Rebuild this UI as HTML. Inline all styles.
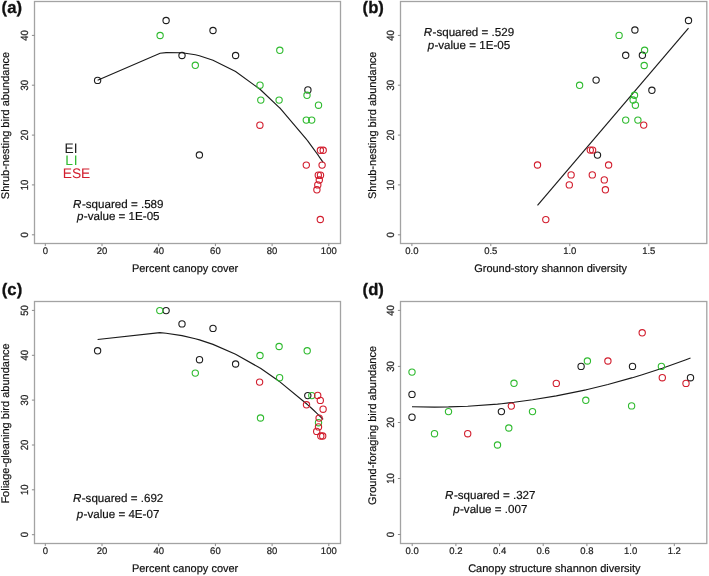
<!DOCTYPE html>
<html><head><meta charset="utf-8"><style>
html,body{margin:0;padding:0;background:#fff;}
svg{display:block;will-change:transform;}
text{font-family:"Liberation Sans",sans-serif;text-rendering:geometricPrecision;}
.tl{font-size:9.5px;fill:#222;stroke:#222;stroke-width:0.2px;}
.ax{font-size:11px;fill:#111;stroke:#111;stroke-width:0.2px;}
.an{font-size:11.6px;fill:#111;stroke:#111;stroke-width:0.2px;}
.lg{font-size:13.8px;}
.pl{font-size:16.7px;font-weight:bold;fill:#111;stroke:#111;stroke-width:0.3px;}
.tk{stroke:#8a8a8a;stroke-width:1;}
</style></head><body>
<svg width="709" height="576" viewBox="0 0 709 576">
<rect width="709" height="576" fill="#fff"/>
<rect x="34.5" y="1.5" width="306.0" height="242.0" fill="none" stroke="#a3a3a3" stroke-width="1.3"/>
<line x1="45.3" y1="243.5" x2="45.3" y2="246.1" class="tk"/>
<text x="45.3" y="253.5" class="tl" text-anchor="middle">0</text>
<line x1="102.0" y1="243.5" x2="102.0" y2="246.1" class="tk"/>
<text x="102.0" y="253.5" class="tl" text-anchor="middle">20</text>
<line x1="158.7" y1="243.5" x2="158.7" y2="246.1" class="tk"/>
<text x="158.7" y="253.5" class="tl" text-anchor="middle">40</text>
<line x1="215.4" y1="243.5" x2="215.4" y2="246.1" class="tk"/>
<text x="215.4" y="253.5" class="tl" text-anchor="middle">60</text>
<line x1="272.1" y1="243.5" x2="272.1" y2="246.1" class="tk"/>
<text x="272.1" y="253.5" class="tl" text-anchor="middle">80</text>
<line x1="328.8" y1="243.5" x2="328.8" y2="246.1" class="tk"/>
<text x="328.8" y="253.5" class="tl" text-anchor="middle">100</text>
<line x1="31.9" y1="234.8" x2="34.5" y2="234.8" class="tk"/>
<text transform="translate(27.6,234.8) rotate(-90) scale(1,1.1)" class="tl" text-anchor="middle">0</text>
<line x1="31.9" y1="184.9" x2="34.5" y2="184.9" class="tk"/>
<text transform="translate(27.6,184.9) rotate(-90) scale(1,1.1)" class="tl" text-anchor="middle">10</text>
<line x1="31.9" y1="135.1" x2="34.5" y2="135.1" class="tk"/>
<text transform="translate(27.6,135.1) rotate(-90) scale(1,1.1)" class="tl" text-anchor="middle">20</text>
<line x1="31.9" y1="85.2" x2="34.5" y2="85.2" class="tk"/>
<text transform="translate(27.6,85.2) rotate(-90) scale(1,1.1)" class="tl" text-anchor="middle">30</text>
<line x1="31.9" y1="35.4" x2="34.5" y2="35.4" class="tk"/>
<text transform="translate(27.6,35.4) rotate(-90) scale(1,1.1)" class="tl" text-anchor="middle">40</text>
<text x="185.1" y="271.5" class="ax" text-anchor="middle">Percent canopy cover</text>
<text transform="translate(9.3,125.5) rotate(-90)" class="ax" text-anchor="middle">Shrub-nesting bird abundance</text>
<polyline points="97.6,80.3 160.1,53.2 166.1,52.6 182.0,52.8 195.3,54.8 199.4,55.8 213.0,60.2 235.6,71.5 259.9,89.2 260.0,89.3 260.8,90.0 279.1,107.3 279.8,108.0 306.3,139.1 307.0,140.0 307.9,141.2 311.7,146.3 316.9,153.5 317.8,154.7 318.3,155.4 318.5,155.7 319.3,156.9 320.3,158.3 320.4,158.4 320.5,158.6 322.1,160.9 323.2,162.5" fill="none" stroke="#1a1a1a" stroke-width="1.15"/>
<g fill="none" stroke-width="1.12"><circle cx="97.6" cy="80.4" r="3.15" stroke="#1e1e1e"/>
<circle cx="166.1" cy="20.5" r="3.15" stroke="#1e1e1e"/>
<circle cx="213" cy="30.5" r="3.15" stroke="#1e1e1e"/>
<circle cx="182" cy="55.5" r="3.15" stroke="#1e1e1e"/>
<circle cx="235.6" cy="55.5" r="3.15" stroke="#1e1e1e"/>
<circle cx="199.4" cy="155" r="3.15" stroke="#1e1e1e"/>
<circle cx="307.9" cy="89.9" r="3.15" stroke="#1e1e1e"/>
<circle cx="160.1" cy="35.5" r="3.15" stroke="#30bb30"/>
<circle cx="195.3" cy="65.3" r="3.15" stroke="#30bb30"/>
<circle cx="279.8" cy="50.3" r="3.15" stroke="#30bb30"/>
<circle cx="260" cy="85.2" r="3.15" stroke="#30bb30"/>
<circle cx="260.8" cy="100.1" r="3.15" stroke="#30bb30"/>
<circle cx="279.1" cy="100.1" r="3.15" stroke="#30bb30"/>
<circle cx="307" cy="95.3" r="3.15" stroke="#30bb30"/>
<circle cx="318.5" cy="105.2" r="3.15" stroke="#30bb30"/>
<circle cx="306.3" cy="120.1" r="3.15" stroke="#30bb30"/>
<circle cx="311.7" cy="120.1" r="3.15" stroke="#30bb30"/>
<circle cx="259.9" cy="125.2" r="3.15" stroke="#d21e2e"/>
<circle cx="320.4" cy="150.3" r="3.15" stroke="#d21e2e"/>
<circle cx="323.2" cy="150.3" r="3.15" stroke="#d21e2e"/>
<circle cx="306.3" cy="165.1" r="3.15" stroke="#d21e2e"/>
<circle cx="322.1" cy="165.1" r="3.15" stroke="#d21e2e"/>
<circle cx="318.3" cy="175.2" r="3.15" stroke="#d21e2e"/>
<circle cx="320.5" cy="175.2" r="3.15" stroke="#d21e2e"/>
<circle cx="319.3" cy="180" r="3.15" stroke="#d21e2e"/>
<circle cx="317.8" cy="184.9" r="3.15" stroke="#d21e2e"/>
<circle cx="316.9" cy="189.8" r="3.15" stroke="#d21e2e"/>
<circle cx="320.3" cy="219.5" r="3.15" stroke="#d21e2e"/></g>
<text x="64.5" y="152.6" class="lg" fill="#1e1e1e">EI</text>
<text x="65.3" y="165" class="lg" fill="#30bb30" letter-spacing="0.8">LI</text>
<text x="62.7" y="177.5" class="lg" fill="#d21e2e">ESE</text>
<text x="118.3" y="207.6" class="an" text-anchor="middle"><tspan font-style="italic">R</tspan><tspan dx="0.5">-squared = .589</tspan></text>
<text x="118.3" y="219.7" class="an" text-anchor="middle"><tspan font-style="italic">p</tspan><tspan dx="0.3">-value = 1E-05</tspan></text>
<text x="1.6" y="12.8" class="pl">(a)</text>
<rect x="400.5" y="1.5" width="306.29999999999995" height="242.0" fill="none" stroke="#a3a3a3" stroke-width="1.3"/>
<line x1="411.9" y1="243.5" x2="411.9" y2="246.1" class="tk"/>
<text x="411.9" y="253.5" class="tl" text-anchor="middle">0.0</text>
<line x1="490.8" y1="243.5" x2="490.8" y2="246.1" class="tk"/>
<text x="490.8" y="253.5" class="tl" text-anchor="middle">0.5</text>
<line x1="569.8" y1="243.5" x2="569.8" y2="246.1" class="tk"/>
<text x="569.8" y="253.5" class="tl" text-anchor="middle">1.0</text>
<line x1="648.8" y1="243.5" x2="648.8" y2="246.1" class="tk"/>
<text x="648.8" y="253.5" class="tl" text-anchor="middle">1.5</text>
<line x1="397.9" y1="234.8" x2="400.5" y2="234.8" class="tk"/>
<text transform="translate(393.6,234.8) rotate(-90) scale(1,1.1)" class="tl" text-anchor="middle">0</text>
<line x1="397.9" y1="184.9" x2="400.5" y2="184.9" class="tk"/>
<text transform="translate(393.6,184.9) rotate(-90) scale(1,1.1)" class="tl" text-anchor="middle">10</text>
<line x1="397.9" y1="135.1" x2="400.5" y2="135.1" class="tk"/>
<text transform="translate(393.6,135.1) rotate(-90) scale(1,1.1)" class="tl" text-anchor="middle">20</text>
<line x1="397.9" y1="85.2" x2="400.5" y2="85.2" class="tk"/>
<text transform="translate(393.6,85.2) rotate(-90) scale(1,1.1)" class="tl" text-anchor="middle">30</text>
<line x1="397.9" y1="35.4" x2="400.5" y2="35.4" class="tk"/>
<text transform="translate(393.6,35.4) rotate(-90) scale(1,1.1)" class="tl" text-anchor="middle">40</text>
<text x="550.6" y="271.5" class="ax" text-anchor="middle">Ground-story shannon diversity</text>
<text transform="translate(375.5,125.3) rotate(-90)" class="ax" text-anchor="middle">Shrub-nesting bird abundance</text>
<line x1="537.5" y1="205.4" x2="688.5" y2="28.2" stroke="#1a1a1a" stroke-width="1.15"/>
<g fill="none" stroke-width="1.12"><circle cx="688.5" cy="20.5" r="3.15" stroke="#1e1e1e"/>
<circle cx="634.9" cy="30" r="3.15" stroke="#1e1e1e"/>
<circle cx="625.7" cy="55.3" r="3.15" stroke="#1e1e1e"/>
<circle cx="642.4" cy="55.3" r="3.15" stroke="#1e1e1e"/>
<circle cx="596.1" cy="80.1" r="3.15" stroke="#1e1e1e"/>
<circle cx="651.9" cy="90.3" r="3.15" stroke="#1e1e1e"/>
<circle cx="597.5" cy="155.1" r="3.15" stroke="#1e1e1e"/>
<circle cx="619.1" cy="35.4" r="3.15" stroke="#30bb30"/>
<circle cx="644.6" cy="50.3" r="3.15" stroke="#30bb30"/>
<circle cx="644.2" cy="65.5" r="3.15" stroke="#30bb30"/>
<circle cx="579.6" cy="85.3" r="3.15" stroke="#30bb30"/>
<circle cx="634.5" cy="95.3" r="3.15" stroke="#30bb30"/>
<circle cx="633.1" cy="100" r="3.15" stroke="#30bb30"/>
<circle cx="635.4" cy="105.2" r="3.15" stroke="#30bb30"/>
<circle cx="625.7" cy="120.1" r="3.15" stroke="#30bb30"/>
<circle cx="637.9" cy="120.1" r="3.15" stroke="#30bb30"/>
<circle cx="643.7" cy="125.1" r="3.15" stroke="#d21e2e"/>
<circle cx="590.3" cy="150.1" r="3.15" stroke="#d21e2e"/>
<circle cx="592.6" cy="150.1" r="3.15" stroke="#d21e2e"/>
<circle cx="537.5" cy="165" r="3.15" stroke="#d21e2e"/>
<circle cx="608.6" cy="165" r="3.15" stroke="#d21e2e"/>
<circle cx="571.1" cy="174.9" r="3.15" stroke="#d21e2e"/>
<circle cx="592.3" cy="174.9" r="3.15" stroke="#d21e2e"/>
<circle cx="604.3" cy="179.9" r="3.15" stroke="#d21e2e"/>
<circle cx="569.3" cy="184.9" r="3.15" stroke="#d21e2e"/>
<circle cx="605.4" cy="189.8" r="3.15" stroke="#d21e2e"/>
<circle cx="545.8" cy="219.6" r="3.15" stroke="#d21e2e"/></g>
<text x="468.9" y="36.1" class="an" text-anchor="middle"><tspan font-style="italic">R</tspan><tspan dx="0.5">-squared = .529</tspan></text>
<text x="468.9" y="49.3" class="an" text-anchor="middle"><tspan font-style="italic">p</tspan><tspan dx="0.3">-value = 1E-05</tspan></text>
<text x="362.6" y="12.9" class="pl">(b)</text>
<rect x="34.5" y="301.5" width="306.0" height="242.0" fill="none" stroke="#a3a3a3" stroke-width="1.3"/>
<line x1="45.3" y1="543.5" x2="45.3" y2="546.1" class="tk"/>
<text x="45.3" y="553.5" class="tl" text-anchor="middle">0</text>
<line x1="102.0" y1="543.5" x2="102.0" y2="546.1" class="tk"/>
<text x="102.0" y="553.5" class="tl" text-anchor="middle">20</text>
<line x1="158.7" y1="543.5" x2="158.7" y2="546.1" class="tk"/>
<text x="158.7" y="553.5" class="tl" text-anchor="middle">40</text>
<line x1="215.4" y1="543.5" x2="215.4" y2="546.1" class="tk"/>
<text x="215.4" y="553.5" class="tl" text-anchor="middle">60</text>
<line x1="272.1" y1="543.5" x2="272.1" y2="546.1" class="tk"/>
<text x="272.1" y="553.5" class="tl" text-anchor="middle">80</text>
<line x1="328.8" y1="543.5" x2="328.8" y2="546.1" class="tk"/>
<text x="328.8" y="553.5" class="tl" text-anchor="middle">100</text>
<line x1="31.9" y1="534.7" x2="34.5" y2="534.7" class="tk"/>
<text transform="translate(27.6,534.7) rotate(-90) scale(1,1.1)" class="tl" text-anchor="middle">0</text>
<line x1="31.9" y1="489.8" x2="34.5" y2="489.8" class="tk"/>
<text transform="translate(27.6,489.8) rotate(-90) scale(1,1.1)" class="tl" text-anchor="middle">10</text>
<line x1="31.9" y1="445.0" x2="34.5" y2="445.0" class="tk"/>
<text transform="translate(27.6,445.0) rotate(-90) scale(1,1.1)" class="tl" text-anchor="middle">20</text>
<line x1="31.9" y1="400.1" x2="34.5" y2="400.1" class="tk"/>
<text transform="translate(27.6,400.1) rotate(-90) scale(1,1.1)" class="tl" text-anchor="middle">30</text>
<line x1="31.9" y1="355.3" x2="34.5" y2="355.3" class="tk"/>
<text transform="translate(27.6,355.3) rotate(-90) scale(1,1.1)" class="tl" text-anchor="middle">40</text>
<line x1="31.9" y1="310.4" x2="34.5" y2="310.4" class="tk"/>
<text transform="translate(27.6,310.4) rotate(-90) scale(1,1.1)" class="tl" text-anchor="middle">50</text>
<text x="185.1" y="571.5" class="ax" text-anchor="middle">Percent canopy cover</text>
<text transform="translate(9.3,423.5) rotate(-90)" class="ax" text-anchor="middle">Foliage-gleaning bird abundance</text>
<polyline points="97.6,339.5 159.8,332.7 166.1,333.3 182.0,335.6 195.3,338.7 199.5,339.9 213.0,344.4 235.6,354.2 259.6,367.8 260.0,368.0 260.5,368.3 279.1,381.2 279.6,381.6 306.5,403.7 307.2,404.3 307.8,404.9 311.8,408.5 316.7,413.2 317.7,414.1 318.5,414.9 319.1,415.5 320.3,416.6 320.8,417.1 322.7,419.0 323.1,419.4" fill="none" stroke="#1a1a1a" stroke-width="1.15"/>
<g fill="none" stroke-width="1.12"><circle cx="97.6" cy="350.8" r="3.15" stroke="#1e1e1e"/>
<circle cx="166.1" cy="310.6" r="3.15" stroke="#1e1e1e"/>
<circle cx="182" cy="323.9" r="3.15" stroke="#1e1e1e"/>
<circle cx="213" cy="328.4" r="3.15" stroke="#1e1e1e"/>
<circle cx="199.5" cy="359.7" r="3.15" stroke="#1e1e1e"/>
<circle cx="235.6" cy="364" r="3.15" stroke="#1e1e1e"/>
<circle cx="307.8" cy="395.6" r="3.15" stroke="#1e1e1e"/>
<circle cx="159.8" cy="310.6" r="3.15" stroke="#30bb30"/>
<circle cx="195.3" cy="373.1" r="3.15" stroke="#30bb30"/>
<circle cx="260" cy="355.5" r="3.15" stroke="#30bb30"/>
<circle cx="279.1" cy="346.5" r="3.15" stroke="#30bb30"/>
<circle cx="307.2" cy="350.8" r="3.15" stroke="#30bb30"/>
<circle cx="279.6" cy="377.7" r="3.15" stroke="#30bb30"/>
<circle cx="260.5" cy="418" r="3.15" stroke="#30bb30"/>
<circle cx="311.8" cy="395.6" r="3.15" stroke="#30bb30"/>
<circle cx="318.5" cy="422.7" r="3.15" stroke="#30bb30"/>
<circle cx="259.6" cy="382.1" r="3.15" stroke="#d21e2e"/>
<circle cx="317.7" cy="395.4" r="3.15" stroke="#d21e2e"/>
<circle cx="320.3" cy="400.4" r="3.15" stroke="#d21e2e"/>
<circle cx="306.5" cy="404.8" r="3.15" stroke="#d21e2e"/>
<circle cx="323.1" cy="409.2" r="3.15" stroke="#d21e2e"/>
<circle cx="319.1" cy="418.1" r="3.15" stroke="#d21e2e"/>
<circle cx="318.5" cy="426.9" r="3.15" stroke="#d21e2e"/>
<circle cx="316.7" cy="431.4" r="3.15" stroke="#d21e2e"/>
<circle cx="320.8" cy="436" r="3.15" stroke="#d21e2e"/>
<circle cx="322.7" cy="436" r="3.15" stroke="#d21e2e"/></g>
<text x="118.1" y="501.8" class="an" text-anchor="middle"><tspan font-style="italic">R</tspan><tspan dx="0.5">-squared = .692</tspan></text>
<text x="118.1" y="517.8" class="an" text-anchor="middle"><tspan font-style="italic">p</tspan><tspan dx="0.3">-value = 4E-07</tspan></text>
<text x="1.8" y="294.8" class="pl">(c)</text>
<rect x="400.5" y="301.5" width="306.29999999999995" height="242.0" fill="none" stroke="#a3a3a3" stroke-width="1.3"/>
<line x1="412.2" y1="543.5" x2="412.2" y2="546.1" class="tk"/>
<text x="412.2" y="553.5" class="tl" text-anchor="middle">0.0</text>
<line x1="455.9" y1="543.5" x2="455.9" y2="546.1" class="tk"/>
<text x="455.9" y="553.5" class="tl" text-anchor="middle">0.2</text>
<line x1="499.6" y1="543.5" x2="499.6" y2="546.1" class="tk"/>
<text x="499.6" y="553.5" class="tl" text-anchor="middle">0.4</text>
<line x1="543.2" y1="543.5" x2="543.2" y2="546.1" class="tk"/>
<text x="543.2" y="553.5" class="tl" text-anchor="middle">0.6</text>
<line x1="586.9" y1="543.5" x2="586.9" y2="546.1" class="tk"/>
<text x="586.9" y="553.5" class="tl" text-anchor="middle">0.8</text>
<line x1="630.6" y1="543.5" x2="630.6" y2="546.1" class="tk"/>
<text x="630.6" y="553.5" class="tl" text-anchor="middle">1.0</text>
<line x1="674.3" y1="543.5" x2="674.3" y2="546.1" class="tk"/>
<text x="674.3" y="553.5" class="tl" text-anchor="middle">1.2</text>
<line x1="397.9" y1="534.5" x2="400.5" y2="534.5" class="tk"/>
<text transform="translate(393.6,534.5) rotate(-90) scale(1,1.1)" class="tl" text-anchor="middle">0</text>
<line x1="397.9" y1="478.5" x2="400.5" y2="478.5" class="tk"/>
<text transform="translate(393.6,478.5) rotate(-90) scale(1,1.1)" class="tl" text-anchor="middle">10</text>
<line x1="397.9" y1="422.5" x2="400.5" y2="422.5" class="tk"/>
<text transform="translate(393.6,422.5) rotate(-90) scale(1,1.1)" class="tl" text-anchor="middle">20</text>
<line x1="397.9" y1="366.4" x2="400.5" y2="366.4" class="tk"/>
<text transform="translate(393.6,366.4) rotate(-90) scale(1,1.1)" class="tl" text-anchor="middle">30</text>
<line x1="397.9" y1="310.4" x2="400.5" y2="310.4" class="tk"/>
<text transform="translate(393.6,310.4) rotate(-90) scale(1,1.1)" class="tl" text-anchor="middle">40</text>
<text x="554.4" y="571.5" class="ax" text-anchor="middle">Canopy structure shannon diversity</text>
<text transform="translate(375.5,425.5) rotate(-90)" class="ax" text-anchor="middle">Ground-foraging bird abundance</text>
<polyline points="412.0,406.7 434.5,407.1 448.5,406.9 467.7,406.2 497.5,404.1 501.4,403.7 508.8,402.9 511.3,402.6 514.0,402.3 532.5,399.8 556.3,395.9 581.1,390.9 585.8,389.9 587.4,389.5 607.9,384.5 631.6,377.9 632.5,377.7 642.2,374.7 661.4,368.5 662.3,368.2 686.0,359.7 690.5,358.0" fill="none" stroke="#1a1a1a" stroke-width="1.15"/>
<g fill="none" stroke-width="1.12"><circle cx="412" cy="394.4" r="3.15" stroke="#1e1e1e"/>
<circle cx="412" cy="417.2" r="3.15" stroke="#1e1e1e"/>
<circle cx="501.4" cy="411.6" r="3.15" stroke="#1e1e1e"/>
<circle cx="581.1" cy="366.4" r="3.15" stroke="#1e1e1e"/>
<circle cx="632.5" cy="366.4" r="3.15" stroke="#1e1e1e"/>
<circle cx="690.5" cy="377.7" r="3.15" stroke="#1e1e1e"/>
<circle cx="412" cy="372.1" r="3.15" stroke="#30bb30"/>
<circle cx="448.5" cy="411.6" r="3.15" stroke="#30bb30"/>
<circle cx="434.5" cy="433.7" r="3.15" stroke="#30bb30"/>
<circle cx="514" cy="383.3" r="3.15" stroke="#30bb30"/>
<circle cx="532.5" cy="411.6" r="3.15" stroke="#30bb30"/>
<circle cx="508.8" cy="428" r="3.15" stroke="#30bb30"/>
<circle cx="497.5" cy="445" r="3.15" stroke="#30bb30"/>
<circle cx="587.4" cy="361" r="3.15" stroke="#30bb30"/>
<circle cx="661.4" cy="366.4" r="3.15" stroke="#30bb30"/>
<circle cx="585.8" cy="400.3" r="3.15" stroke="#30bb30"/>
<circle cx="631.6" cy="405.9" r="3.15" stroke="#30bb30"/>
<circle cx="467.7" cy="433.7" r="3.15" stroke="#d21e2e"/>
<circle cx="511.3" cy="406.1" r="3.15" stroke="#d21e2e"/>
<circle cx="556.3" cy="383.4" r="3.15" stroke="#d21e2e"/>
<circle cx="607.9" cy="361" r="3.15" stroke="#d21e2e"/>
<circle cx="642.2" cy="332.8" r="3.15" stroke="#d21e2e"/>
<circle cx="662.3" cy="377.7" r="3.15" stroke="#d21e2e"/>
<circle cx="686" cy="383.4" r="3.15" stroke="#d21e2e"/></g>
<text x="490.3" y="498.7" class="an" text-anchor="middle"><tspan font-style="italic">R</tspan><tspan dx="0.5">-squared = .327</tspan></text>
<text x="490.3" y="512.7" class="an" text-anchor="middle"><tspan font-style="italic">p</tspan><tspan dx="0.3">-value = .007</tspan></text>
<text x="362.6" y="295.1" class="pl">(d)</text>
</svg>
</body></html>
